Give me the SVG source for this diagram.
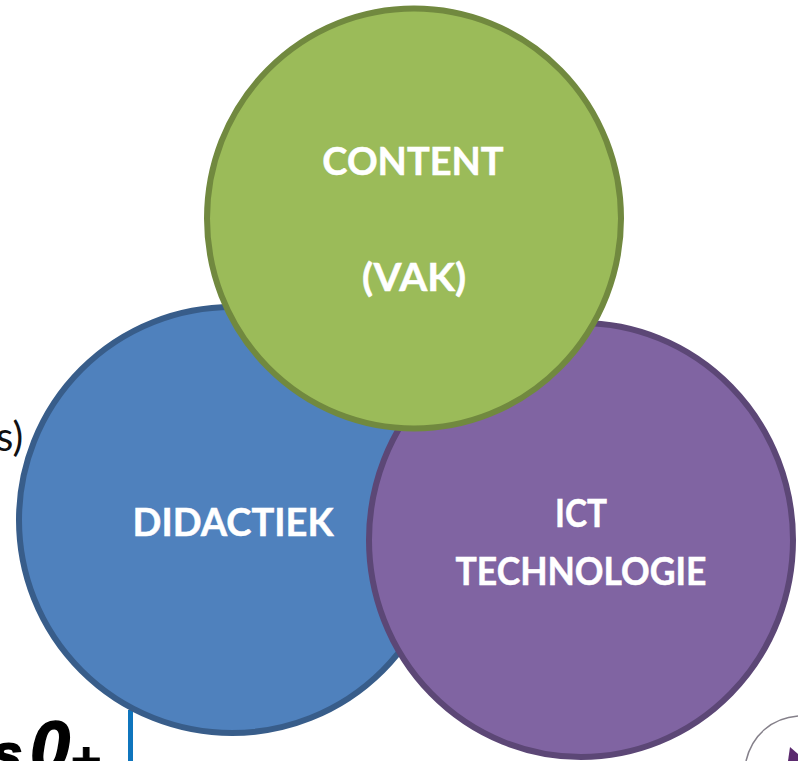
<svg xmlns="http://www.w3.org/2000/svg" width="798" height="761" viewBox="0 0 798 761">
<style>
.c{stroke-width:6}
.l{font-family:Lato,"Liberation Sans",sans-serif;font-weight:700;font-size:38px;fill:#fff;text-anchor:middle;stroke:#fff;stroke-width:.5px}
.h{font-family:"Liberation Sans",sans-serif;font-weight:700;font-style:italic;fill:#000;stroke:#000}
</style>
<rect width="798" height="761" fill="#fff"/>
<g id="background-fragments">
<text x="-4" y="451" font-family="Lato,'Liberation Sans',sans-serif" font-size="40" fill="#111">s)</text>
<rect x="128" y="710" width="5" height="51" fill="#0f75bd"/>
<text class="h" font-size="54" stroke-width="2" x="-8" y="772">s</text>
<text class="h" font-size="72" stroke-width="1.500" transform="translate(30,772) scale(1,1)">0</text>
<text class="h" font-size="52" stroke-width="1" x="70" y="778">+</text>
<path d="M746 761C752 735 772 718 798 716" fill="none" stroke="#85808a" stroke-width="1.500"/>
<path d="M788 761L790 747L798 754L798 761Z" fill="#5b2a6e"/>
</g>
<g id="didactiek">
<circle class="c" cx="232" cy="520" r="213" fill="#4f81bd" stroke="#385d8a"/>
<text class="l" x="233" y="536">DIDACTIEK</text>
</g>
<g id="ict">
<ellipse class="c" cx="581" cy="540" rx="212" ry="217" fill="#8064a2" stroke="#5c4776"/>
<text class="l" x="581" y="527" textLength="52" lengthAdjust="spacingAndGlyphs">ICT</text>
<text class="l" x="581" y="585" textLength="251" lengthAdjust="spacingAndGlyphs">TECHNOLOGIE</text>
</g>
<g id="content">
<ellipse class="c" cx="414" cy="218.500" rx="207" ry="210" fill="#9bbb59" stroke="#71893f"/>
<text class="l" x="413" y="175">CONTENT</text>
<text class="l" x="414" y="291" textLength="104" lengthAdjust="spacingAndGlyphs">(VAK)</text>
</g>
<g id="connectors"/>
</svg>
